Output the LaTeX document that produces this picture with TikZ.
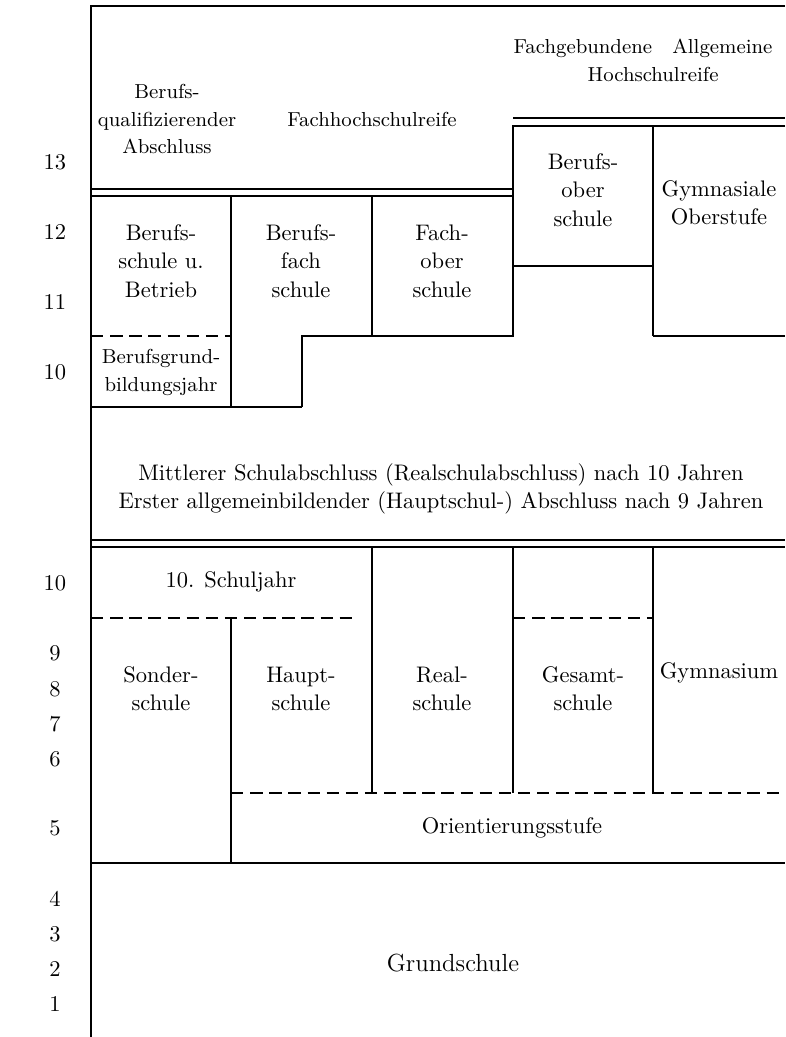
\documentclass[tikz,border=0pt]{standalone}
\tikzset{
  every picture/.style={line width=0.8pt},
  heavy/.style={line width=1.3pt},
  broken/.style={dash pattern=on 5.5pt off 3pt},
  school/.style={align=center, inner sep=0pt, font=\fontsize{10}{12.6}\selectfont},
  exam/.style={align=center, inner sep=0pt, font=\fontsize{9}{12.4}\selectfont},
  grade/.style={inner sep=0pt, font=\fontsize{10}{12}\selectfont},
}

\begin{document}
\begin{tikzpicture}[x=0.4444pt, y=-0.4444pt]
  \useasboundingbox (0,0) rectangle (785,1037);
  \draw (91,1037) -- (91,6) -- (785,6);
  \draw (91,189) -- (513,189);
  \draw[heavy] (91,196) -- (513,196);
  \draw (513,118) -- (785,118);
  \draw[heavy] (785,126) -- (513,126) -- (513,336) -- (302,336) -- (302,407);
  \draw (91,407) -- (302,407);
  \draw[heavy, broken] (91,336) -- (231,336);
  \draw (231,196) -- (231,407);
  \draw (372,196) -- (372,336);
  \draw (513,266) -- (653,266);
  \draw (653,126) -- (653,336);
  \draw[heavy] (653,336) -- (785,336);
  \draw (91,540) -- (785,540);
  \draw[heavy] (91,547) -- (785,547);
  \draw[broken] (91,618) -- (358,618);
  \draw (231,618) -- (231,863);
  \draw (372,547) -- (372,793);
  \draw[heavy] (513,547) -- (513,793);
  \draw[broken] (513,618) -- (653,618);
  \draw (653,547) -- (653,793);
  \draw[broken] (231,793) -- (785,793);
  \draw (91,863) -- (785,863);
  \node[exam] (bqa) at (167,119) {Berufs-\\qualifizierender\\Abschluss};
  \node[exam] (fhr) at (372,119) {Fachhochschulreife};
  \node[exam] (ahr) at (643,60) {Fachgebundene\quad Allgemeine\\\hspace*{9pt}Hochschulreife};
  \node[school] (bsb) at (161,261) {Berufs-\\schule u.\\Betrieb};
  \node[school] (bfs) at (301,261) {Berufs-\\fach\\schule};
  \node[school] (fos) at (442,261) {Fach-\\ober\\schule};
  \node[school] (bos) at (583,190) {Berufs-\\ober\\schule};
  \node[school] (gos) at (719,203) {Gymnasiale\\Oberstufe};
  \node[exam] (bgj) at (161,372) {Berufsgrund-\\bildungsjahr};
  \node[school] (msa) at (441,489) {Mittlerer Schulabschluss (Realschulabschluss) nach 10 Jahren\\Erster allgemeinbildender (Hauptschul-) Abschluss nach 9 Jahren};
  \node[school] (sj10) at (231,582) {10. Schuljahr};
  \node[school] (sos) at (161,689) {Sonder-\\schule};
  \node[school] (hs) at (301,689) {Haupt-\\schule};
  \node[school] (rs) at (442,689) {Real-\\schule};
  \node[school] (ges) at (583,689) {Gesamt-\\schule};
  \node[school] (gym) at (719,673) {Gymnasium};
  \node[school] (ost) at (512,828) {Orientierungsstufe};
  \node[school, font=\fontsize{11}{13}\selectfont] (gs) at (453,963) {Grundschule};
  \node[grade] (y13) at (55,162) {13};
  \node[grade] (y12) at (55,232) {12};
  \node[grade] (y11) at (55,302) {11};
  \node[grade] (y10b) at (55,372) {10};
  \node[grade] (y10) at (55,583) {10};
  \node[grade] (y9) at (55,653) {9};
  \node[grade] (y8) at (55,689) {8};
  \node[grade] (y7) at (55,724) {7};
  \node[grade] (y6) at (55,759) {6};
  \node[grade] (y5) at (55,828) {5};
  \node[grade] (y4) at (55,899) {4};
  \node[grade] (y3) at (55,934) {3};
  \node[grade] (y2) at (55,969) {2};
  \node[grade] (y1) at (55,1004) {1};
\end{tikzpicture}
\end{document}
